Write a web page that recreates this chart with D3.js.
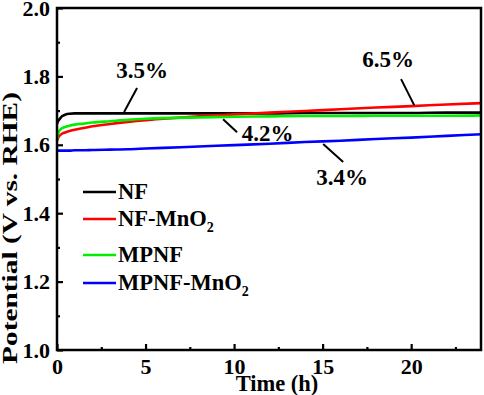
<!DOCTYPE html>
<html>
<head>
<meta charset="utf-8">
<script src="https://cdn.jsdelivr.net/npm/d3@7"></script>
<style>
  body { margin: 0; background: #fff; }
  svg text { font-family: "Liberation Serif", "Times New Roman", serif; font-weight: bold; fill: #000; }
</style>
</head>
<body>
<svg id="chart" width="484" height="395"></svg>
<script>
// time points (h)
const times = [0, 0.1, 0.2, 0.3, 0.5, 0.7, 1, 1.5, 2, 3, 4, 5, 6, 8, 10, 12, 14, 16, 18, 20, 22, 24];

// potentials (V vs. RHE)
const nfValues    = [1.662, 1.672, 1.679, 1.684, 1.689, 1.691, 1.692, 1.692, 1.692, 1.692, 1.692, 1.692, 1.692, 1.692, 1.692, 1.692, 1.693, 1.693, 1.693, 1.693, 1.694, 1.694];
const nfMnValues  = [1.612, 1.624, 1.629, 1.633, 1.637, 1.640, 1.644, 1.649, 1.654, 1.661, 1.667, 1.672, 1.676, 1.683, 1.689, 1.694, 1.699, 1.704, 1.709, 1.713, 1.718, 1.722];
const mpnfValues  = [1.615, 1.638, 1.645, 1.649, 1.653, 1.656, 1.659, 1.662, 1.665, 1.669, 1.673, 1.676, 1.678, 1.680, 1.682, 1.683, 1.684, 1.684, 1.685, 1.685, 1.685, 1.686];
const mpnfMnValues = [1.583, 1.583, 1.583, 1.583, 1.583, 1.583, 1.584, 1.584, 1.585, 1.586, 1.587, 1.589, 1.591, 1.595, 1.599, 1.603, 1.608, 1.612, 1.617, 1.621, 1.626, 1.631];

const seriesNames = ["NF", "NF-MnO2", "MPNF", "MPNF-MnO2"];
const seriesColors = ["#000000", "#ff0000", "#00ee00", "#0000ff"];
const seriesValues = [nfValues, nfMnValues, mpnfValues, mpnfMnValues];

// percentage annotations: [label, text x (h), text y (V), line from (h,V), line to (h,V)]
const notes = [
  ["3.5%", 4.8, 1.795, [4.52, 1.766], [3.79, 1.696]],
  ["6.5%", 18.7, 1.827, [19.43, 1.792], [20.17, 1.716]],
  ["4.2%", 11.9, 1.611, [9.38, 1.675], [10.17, 1.637]],
  ["3.4%", 16.1, 1.482, [15.03, 1.602], [16.16, 1.550]]
];

const svg = d3.select("#chart");
const plot = { left: 57, right: 482, top: 8, bottom: 350 };

const x = d3.scaleLinear().domain([0, 24]).range([plot.left, plot.right]);
const y = d3.scaleLinear().domain([1.0, 2.0]).range([plot.bottom, plot.top]);

// data lines
const line = d3.line()
    .x((d, i) => x(times[i]))
    .y(d => y(d))
    .curve(d3.curveMonotoneX);

seriesValues.forEach(function(vals, i) {
    svg.append("path")
        .datum(vals)
        .attr("d", line)
        .attr("fill", "none")
        .attr("stroke", seriesColors[i])
        .attr("stroke-width", 2.6);
});

// frame
svg.append("rect")
    .attr("x", plot.left).attr("y", plot.top)
    .attr("width", plot.right - plot.left - 1).attr("height", plot.bottom - plot.top)
    .attr("fill", "none").attr("stroke", "#000").attr("stroke-width", 2.5);

// x axis ticks, inward
const xAxis = d3.axisBottom(x).tickValues([0, 5, 10, 15, 20]).tickSize(-6).tickPadding(8);
const gx = svg.append("g").attr("transform", `translate(0,${plot.bottom})`).call(xAxis);
gx.select(".domain").remove();
gx.selectAll(".tick line").attr("stroke-width", 2.2);
gx.selectAll("text").style("font-size", "22px").attr("font-family", null).attr("dy", "0.71em");

const xMinor = d3.axisBottom(x).tickValues([2.5, 7.5, 12.5, 17.5, 22.5]).tickSize(-3).tickFormat("");
const gxm = svg.append("g").attr("transform", `translate(0,${plot.bottom})`).call(xMinor);
gxm.select(".domain").remove();
gxm.selectAll(".tick line").attr("stroke-width", 2.2);

// y axis ticks, inward
const yAxis = d3.axisLeft(y).tickValues(d3.range(1.0, 2.01, 0.2)).tickSize(-6).tickPadding(7).tickFormat(d3.format(".1f"));
const gy = svg.append("g").attr("transform", `translate(${plot.left},0)`).call(yAxis);
gy.select(".domain").remove();
gy.selectAll(".tick line").attr("stroke-width", 2.2);
gy.selectAll("text").style("font-size", "22px").attr("font-family", null);

const yMinor = d3.axisLeft(y).tickValues(d3.range(1.1, 2.0, 0.2)).tickSize(-3).tickFormat("");
const gym = svg.append("g").attr("transform", `translate(${plot.left},0)`).call(yMinor);
gym.select(".domain").remove();
gym.selectAll(".tick line").attr("stroke-width", 2.2);

// axis titles
svg.append("text")
    .attr("x", 277).attr("y", 391)
    .attr("text-anchor", "middle")
    .style("font-size", "22.5px")
    .text("Time (h)");

svg.append("text")
    .attr("transform", "translate(17,228) rotate(-90)")
    .attr("text-anchor", "middle")
    .attr("textLength", 272)
    .attr("lengthAdjust", "spacingAndGlyphs")
    .style("font-size", "21px")
    .text("Potential (V vs. RHE)");

// annotations
notes.forEach(function(n) {
    svg.append("line")
        .attr("x1", x(n[3][0])).attr("y1", y(n[3][1]))
        .attr("x2", x(n[4][0])).attr("y2", y(n[4][1]))
        .attr("stroke", "#000").attr("stroke-width", 2);
    svg.append("text")
        .attr("x", x(n[1])).attr("y", y(n[2]))
        .attr("text-anchor", "middle")
        .style("font-size", "23px")
        .text(n[0]);
});

// legend
const legendY = [192, 219, 255, 283];
seriesNames.forEach(function(name, i) {
    svg.append("line")
        .attr("x1", 83).attr("x2", 116)
        .attr("y1", legendY[i]).attr("y2", legendY[i])
        .attr("stroke", seriesColors[i]).attr("stroke-width", 2.6);
    const t = svg.append("text")
        .attr("x", 118).attr("y", legendY[i] + 7)
        .style("font-size", "22.5px");
    if (name.endsWith("2")) {
        t.append("tspan").text(name.slice(0, -1));
        t.append("tspan").attr("dy", 6).style("font-size", "14px").text("2");
    } else {
        t.text(name);
    }
});
</script>
</body>
</html>
